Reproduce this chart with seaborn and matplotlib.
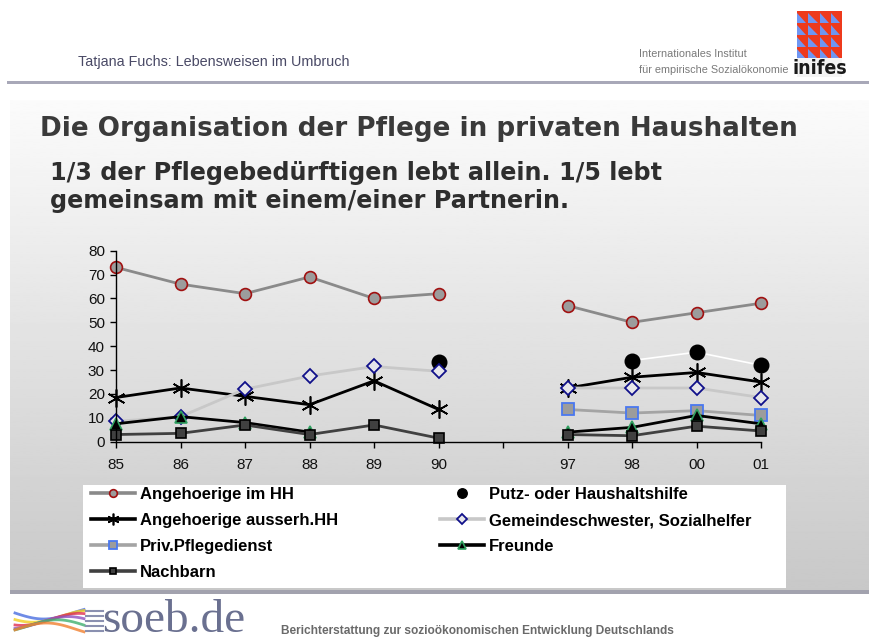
import seaborn as sns
import matplotlib.pyplot as plt
import matplotlib.patches as mpatches
from matplotlib.lines import Line2D
import pandas as pd
import numpy as np

nan = np.nan

# Daten, Position 6 ist die Lücke zwischen 90 und 97
years = ['85', '86', '87', '88', '89', '90', '', '97', '98', '00', '01']
periods = [1, 1, 1, 1, 1, 1, 0, 2, 2, 2, 2]

angeh_im_hh = [73, 66, 62, 69, 60, 62, nan, 57, 50, 54, 58]
putz = [nan, nan, nan, nan, nan, 33.5, nan, nan, 34, 37.5, 32]
angeh_ausserh = [18.5, 22.5, 19, 15.5, 25.5, 13.5, nan, 22.5, 27, 29, 25]
gemeinde = [8.5, 10.5, 22, 27.5, 31.5, 29.5, nan, 22.5, 22.5, 22.5, 18.5]
priv_pflege = [nan, nan, nan, nan, nan, nan, nan, 13.5, 12, 13, 11]
freunde = [7.5, 10.5, 8, 4, nan, nan, nan, 4, 6, 11, 7.5]
nachbarn = [3, 3.5, 7, 3, 7, 1.5, nan, 3, 2.5, 6.5, 4.5]

series_names = ['Angehoerige im HH', 'Putz- oder Haushaltshilfe', 'Angehoerige ausserh.HH',
                'Gemeindeschwester, Sozialhelfer', 'Priv.Pflegedienst', 'Freunde', 'Nachbarn']
series_values = [angeh_im_hh, putz, angeh_ausserh, gemeinde, priv_pflege, freunde, nachbarn]

rows = []
for name, vals in zip(series_names, series_values):
    for i, v in enumerate(vals):
        rows.append({'series': name, 'pos': i, 'period': periods[i], 'value': v})
df = pd.DataFrame(rows).dropna()

# Stil je Reihe (Linie + Marker)
styles = {
    'Angehoerige im HH': dict(color='#8a8a8a', lw=2.0, marker='o', ms=8.5, mfc='#9c9c9c', mec='#a01010', mew=1.2),
    'Putz- oder Haushaltshilfe': dict(color='white', lw=1.2, marker='o', ms=10.5, mfc='black', mec='black', mew=1),
    'Angehoerige ausserh.HH': dict(color='black', lw=2.0, marker=(6, 2, 0), ms=13, mfc='black', mec='black', mew=1.2),
    'Gemeindeschwester, Sozialhelfer': dict(color='#c8c8c8', lw=2.0, marker='D', ms=7.5, mfc='#e6e6ea', mec='#10108a', mew=1.3),
    'Priv.Pflegedienst': dict(color='#a4a4a4', lw=2.0, marker='s', ms=8, mfc='#9c9c9c', mec='#4a78f0', mew=1.3),
    'Freunde': dict(color='black', lw=2.0, marker='^', ms=8.5, mfc='black', mec='#30a060', mew=1.2),
    'Nachbarn': dict(color='#404040', lw=2.0, marker='s', ms=7, mfc='#404040', mec='black', mew=1.2),
}

fig = plt.figure(figsize=(8.69, 6.41), dpi=100)

# Hintergrund der Folie
bg = fig.add_axes([0, 0, 1, 1], zorder=-10)
bg.set_xlim(0, 869)
bg.set_ylim(641, 0)
bg.axis('off')
grad = np.linspace(0.985, 0.785, 256).reshape(-1, 1)
bg.imshow(grad, cmap='gray', vmin=0, vmax=1, extent=[10, 869, 591, 100], aspect='auto')
bg.add_patch(mpatches.Rectangle((7, 81), 862, 2.5, color='#a8a8b8', lw=0))
bg.add_patch(mpatches.Rectangle((10, 590), 859, 4, color='#a2a2ae', lw=0))

# Kopfzeile
bg.text(78, 62, 'Tatjana Fuchs: Lebensweisen im Umbruch', fontsize=10.4, color='#4a4a66',
        family='Liberation Sans', va='center')
bg.text(639, 54, 'Internationales Institut', fontsize=7.8, color='#7a7a7a',
        family='Liberation Sans', va='center')
bg.text(639, 70, 'für empirische Sozialökonomie', fontsize=7.8, color='#7a7a7a',
        family='Liberation Sans', va='center')

# inifes-Logo
cw = 11.25
for r in range(4):
    for c in range(4):
        x0, y0 = 797 + c * cw, 11 + r * 12
        bg.add_patch(mpatches.Rectangle((x0, y0), cw, 12, color='#ee3a1c', lw=0))
        bg.add_patch(mpatches.Polygon([(x0, y0 + 2), (x0, y0 + 12), (x0 + cw - 2, y0 + 12)],
                                      color='#6f96f2', lw=0))
bg.add_patch(mpatches.Rectangle((797, 58), 45, 19, color='#f4f4f4', lw=0))
bg.text(819.5, 68, 'inifes', fontsize=14, fontweight='heavy', color='#1a1a1a',
        family='DejaVu Sans', ha='center', va='center', fontstretch='condensed')

# Titel
bg.text(40, 129, 'Die Organisation der Pflege in privaten Haushalten', fontsize=18.8,
        fontweight='bold', color='#3a3a3a', family='DejaVu Sans', va='center')
bg.text(50, 173, '1/3 der Pflegebedürftigen lebt allein. 1/5 lebt', fontsize=17.2,
        fontweight='bold', color='#2e2e2e', family='DejaVu Sans', va='center')
bg.text(50, 201, 'gemeinsam mit einem/einer Partnerin.', fontsize=17.2,
        fontweight='bold', color='#2e2e2e', family='DejaVu Sans', va='center')

# Fußzeile
swoosh = ['#4a6ee0', '#f0d020', '#e03050', '#9050c0', '#40b070', '#f08030']
for k, col in enumerate(swoosh):
    xs = np.linspace(15, 84, 30)
    ys = 621 + (k - 2.5) * 3.2 + 6 * np.sin((xs - 15) / 69 * np.pi * 1.2 + k * 0.6)
    bg.plot(xs, ys, color=col, lw=2, alpha=0.8)
for k in range(5):
    bg.plot([86, 103], [611 + k * 5, 611 + k * 5], color='#8a90b0', lw=1.5)
bg.text(102, 632, 'soeb.de', fontsize=34, color='#6a7090', family='Liberation Serif',
        va='baseline', ha='left')
bg.text(281, 634, 'Berichterstattung zur sozioökonomischen Entwicklung Deutschlands',
        fontsize=8.6, fontweight='bold', color='#6a6a6a', family='Liberation Sans', va='baseline')

# Legendenkasten
bg.add_patch(mpatches.Rectangle((83, 485), 703, 103, color='white', lw=0))

# Diagramm
ax = fig.add_axes([116 / 869, 1 - 441.7 / 641, 645 / 869, 191 / 641], facecolor='none')
for name in series_names:
    st = styles[name]
    sns.lineplot(data=df[df['series'] == name], x='pos', y='value', units='period',
                 estimator=None, errorbar=None, ax=ax, color=st['color'], linewidth=st['lw'],
                 marker=st['marker'], markersize=st['ms'], markerfacecolor=st['mfc'],
                 markeredgecolor=st['mec'], markeredgewidth=st['mew'], clip_on=False,
                 legend=False)

ax.set_xlim(0, len(years) - 1)
ax.set_ylim(0, 80)
ax.set_xticks(range(len(years)))
ax.set_xticklabels(years)
ax.set_yticks(range(0, 81, 10))
ax.set_xlabel('')
ax.set_ylabel('')
for side in ['top', 'right']:
    ax.spines[side].set_visible(False)
for side in ['left', 'bottom']:
    ax.spines[side].set_color('black')
    ax.spines[side].set_linewidth(1)
ax.tick_params(axis='both', direction='out', length=4, width=1, colors='black',
               labelsize=11, pad=4)
for lab in ax.get_xticklabels() + ax.get_yticklabels():
    lab.set_family('Liberation Sans')
    lab.set_color('#111111')
ax.tick_params(axis='x', pad=8)

# Legende (zwei Spalten als zwei Legenden)
handles = {}
for name in series_names:
    st = styles[name]
    handles[name] = Line2D([], [], color=st['color'], lw=2.6, marker=st['marker'],
                           markersize=st['ms'] * 0.65, markerfacecolor=st['mfc'],
                           markeredgecolor=st['mec'], markeredgewidth=st['mew'])
columns = [(['Angehoerige im HH', 'Angehoerige ausserh.HH', 'Priv.Pflegedienst', 'Nachbarn'], 91),
           (['Putz- oder Haushaltshilfe', 'Gemeindeschwester, Sozialhelfer', 'Freunde'], 440)]
for names, x0 in columns:
    fig.legend([handles[n] for n in names], names, loc='upper left',
               bbox_to_anchor=(x0 / 869, 1 - 487 / 641), frameon=False, borderaxespad=0,
               borderpad=0, handlelength=2.65, handletextpad=0.3, labelspacing=0.66,
               prop={'family': 'Liberation Sans', 'weight': 'bold', 'size': 12})

fig.savefig('out.png', dpi=100)
